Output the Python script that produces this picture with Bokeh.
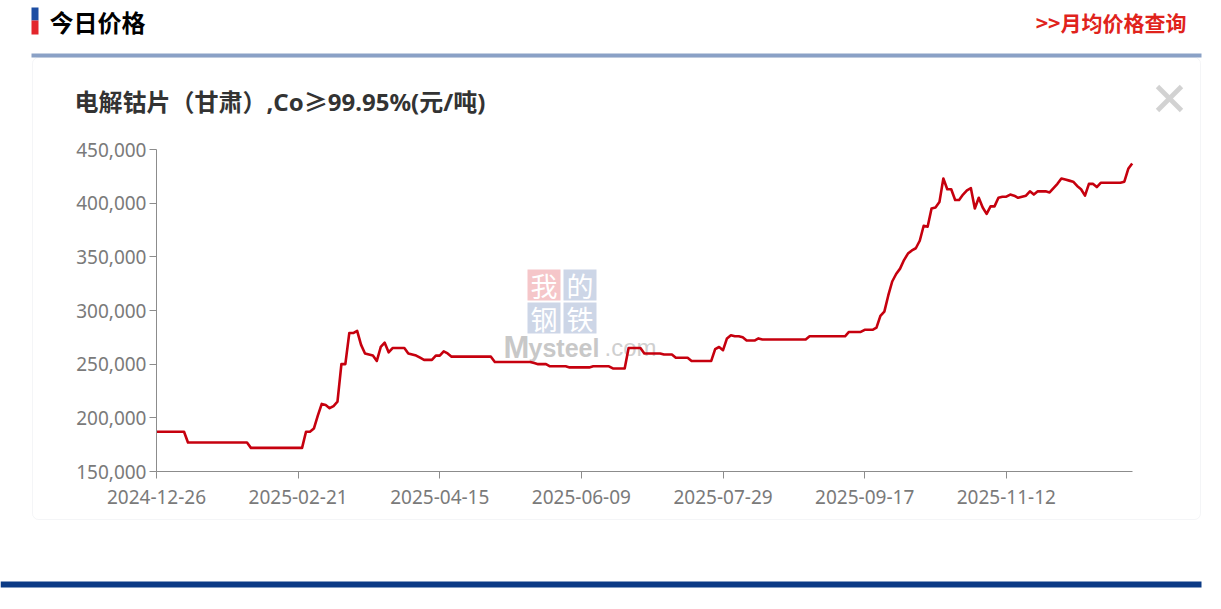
from bokeh.plotting import figure
from bokeh.models import Range1d, FixedTicker, NumeralTickFormatter, Label, BoxAnnotation, PolyAnnotation
from bokeh.embed import file_html
from bokeh.resources import INLINE

# ---------------- data ----------------
tick_labels = ["2024-12-26", "2025-02-21", "2025-04-15", "2025-06-09",
               "2025-07-29", "2025-09-17", "2025-11-12"]
tick_step = 36  # trading days between labelled dates
y_ticks = [150000, 200000, 250000, 300000, 350000, 400000, 450000]

prices = [
    187000, 187000, 187000, 187000, 187000, 187000, 187000, 187000,
    177000, 177000, 177000, 177000, 177000, 177000, 177000, 177000,
    177000, 177000, 177000, 177000, 177000, 177000, 177000, 177000,
    172000, 172000, 172000, 172000, 172000, 172000, 172000, 172000,
    172000, 172000, 172000, 172000, 172000, 172000,
    187000, 187000, 190000, 202000, 213000, 212000, 209000, 211000, 215000, 250000,
    250000, 279000, 279000, 281000, 268000, 260000, 259000, 258000, 253000, 266000,
    270000, 261000, 265000, 265000, 265000, 265000, 260000, 259000, 258000, 256000,
    254000, 254000, 254000, 258000, 258000, 262000, 260000, 257000,
    257000, 257000, 257000, 257000, 257000, 257000, 257000, 257000, 257000, 257000,
    252000, 252000, 252000, 252000, 252000, 252000, 252000, 252000, 252000, 252000,
    251000, 250000, 250000, 250000,
    248000, 248000, 248000, 248000, 248000,
    247000, 247000, 247000, 247000, 247000, 247000,
    248000, 248000, 248000, 248000, 248000,
    246000, 246000, 246000, 246000,
    265000, 265000, 265000, 265000,
    260000, 260000, 260000, 260000, 260000,
    259000, 259000, 259000,
    256000, 256000, 256000, 256000,
    253000, 253000, 253000, 253000, 253000, 253000,
    264000, 266000, 263000, 274000, 277000, 276000, 276000, 275000, 272000, 272000,
    272000, 274000, 273000,
    273000, 273000, 273000, 273000, 273000, 273000, 273000, 273000, 273000, 273000, 273000,
    276000, 276000, 276000, 276000, 276000, 276000, 276000, 276000, 276000, 276000,
    280000, 280000, 280000, 280000,
    282000, 282000, 282000,
    284000, 295000, 299000, 314000, 327000, 334000, 339000, 347000, 353000, 356000,
    358000, 365000, 379000, 378000, 395000, 396000, 401000, 423000, 413000, 413000,
    403000, 403000, 408000, 412000, 414000, 395000, 405000, 396000, 390000, 397000,
    397000, 405000, 406000, 406000, 408000, 407000, 405000, 406000, 407000, 411000,
    408000, 411000, 411000, 411000, 410000, 414000, 418000, 423000, 422000, 421000,
    420000, 416000, 413000, 407000, 418000, 418000, 415000, 419000,
    419000, 419000, 419000, 419000, 419000,
    420000, 432000, 437000,
]

x_idx = list(range(len(prices)))
tick_pos = [i * tick_step for i in range(len(tick_labels))]

# ---------------- layout (page pixel coordinates) ----------------
W, H = 1205, 593
PX_LEFT, PX_RIGHT = 156, 1131.7     # pixel of first / last category
PY_BOTTOM, PY_TOP = 471, 149        # pixel of lowest / highest y tick

n = len(prices)
px_per_x = (PX_RIGHT - PX_LEFT) / (n - 1)
val_per_px = (y_ticks[-1] - y_ticks[0]) / (PY_BOTTOM - PY_TOP)
x_range = Range1d(-PX_LEFT / px_per_x, (W - PX_LEFT) / px_per_x)
y_range = Range1d(y_ticks[0] - (H - PY_BOTTOM) * val_per_px, y_ticks[-1] + PY_TOP * val_per_px)

def sx(px):
    return px

def sy(py):
    return H - py

p = figure(width=W, height=H, output_backend="svg", toolbar_location=None,
           x_range=x_range, y_range=y_range,
           min_border=0, min_border_left=0, min_border_right=0,
           min_border_top=0, min_border_bottom=0)
p.outline_line_color = None
p.background_fill_color = "white"
p.border_fill_color = "white"
p.xgrid.visible = False
p.ygrid.visible = False

axis_color = "#8c8c8c"
label_color = "#7a7a7a"
for ax in (p.xaxis[0], p.yaxis[0]):
    ax.axis_line_color = axis_color
    ax.major_tick_line_color = axis_color
    ax.minor_tick_line_color = None
    ax.major_tick_out = 7
    ax.major_tick_in = 0
    ax.major_label_text_color = label_color
    ax.major_label_text_font = "Noto Sans"
    ax.major_label_text_font_size = "19px"

p.xaxis.fixed_location = y_ticks[0]
p.xaxis.bounds = (0, n - 1)
p.xaxis.ticker = FixedTicker(ticks=tick_pos)
p.xaxis.major_label_overrides = {t: lab for t, lab in zip(tick_pos, tick_labels)}
p.xaxis.major_label_standoff = 11
p.yaxis.fixed_location = 0
p.yaxis.bounds = (y_ticks[0], y_ticks[-1])
p.yaxis.ticker = FixedTicker(ticks=y_ticks)
p.yaxis.formatter = NumeralTickFormatter(format="0,0")
p.yaxis.major_label_standoff = 3

# ---------------- page decorations ----------------
def box(l, t, r, b, fill, line=None, radius=0, level="underlay"):
    bx = BoxAnnotation(left=sx(l), right=sx(r), top=sy(t), bottom=sy(b),
                       left_units="screen", right_units="screen",
                       top_units="screen", bottom_units="screen",
                       fill_color=fill, fill_alpha=1.0 if fill else 0,
                       line_color=line, line_width=1, border_radius=radius, level=level)
    p.add_layout(bx)

def label(px, py, text, size, color, bold=False, font="Noto Sans CJK SC",
          align="left", baseline="middle", level="overlay"):
    lb = Label(x=sx(px), y=sy(py), x_units="screen", y_units="screen", text=text,
               text_font=font, text_font_size=f"{size}px", text_color=color,
               text_font_style="bold" if bold else "normal",
               text_align=align, text_baseline=baseline, level=level)
    p.add_layout(lb)

def stroke(x1, y1, x2, y2, half, color):
    dx, dy = x2 - x1, y2 - y1
    ln = (dx * dx + dy * dy) ** 0.5
    nx, ny = -dy / ln * half, dx / ln * half
    xs = [x1 + nx, x2 + nx, x2 - nx, x1 - nx]
    ys = [y1 + ny, y2 + ny, y2 - ny, y1 - ny]
    p.add_layout(PolyAnnotation(xs=[sx(v) for v in xs], ys=[sy(v) for v in ys],
                                xs_units="screen", ys_units="screen",
                                fill_color=color, fill_alpha=1.0, line_color=None,
                                level="overlay"))

# header
box(31, 7, 38, 20, "#1d4ea3")
box(31, 20, 38, 34, "#e3262c")
label(49, 21, "今日价格", 24, "#000000", bold=True)
label(1186, 21, ">>月均价格查询", 21, "#e0231c", bold=True, align="right")
# panel
box(32, 57, 1200, 519, None, line="#dadee6", radius=6)
box(31, 53, 1201, 57, "#8aa1c6")
# bottom bar
box(0, 581, 1201, 587, "#0b3a85")

# chart title and close mark
label(74, 101, "电解钴片（甘肃）,Co≥99.95%(元/吨)", 24, "#333333", bold=True,
      font="Noto Sans, Noto Sans CJK SC")
stroke(1157, 86, 1181, 110, 2.4, "#d2d2d2")
stroke(1181, 86, 1157, 110, 2.4, "#d2d2d2")

# watermark
box(527, 269, 560, 300, "#f5c6c9")
box(563, 269, 596, 300, "#cdd6e7")
box(527, 302, 560, 333, "#cdd6e7")
box(563, 302, 596, 333, "#cdd6e7")
for cx, cy, ch in [(543.5, 285, "我"), (579.5, 285, "的"), (543.5, 318, "钢"), (579.5, 318, "铁")]:
    label(cx, cy, ch, 27, "#ffffff", align="center", level="underlay")
label(503, 347, "M", 31, "#c8c8c8", bold=True, font="Liberation Sans",
      baseline="alphabetic", level="underlay")
label(528, 347, "ysteel", 25, "#c8c8c8", bold=True, font="Liberation Sans",
      baseline="alphabetic", level="underlay")
label(604, 347, ".com", 24, "#cfcfcf", font="Liberation Sans",
      baseline="alphabetic", level="underlay")

# ---------------- data line ----------------
p.line(x_idx, prices, line_color="#c6000e", line_width=2.6, line_join="round")

open("out.html", "w").write(file_html(p, INLINE))
